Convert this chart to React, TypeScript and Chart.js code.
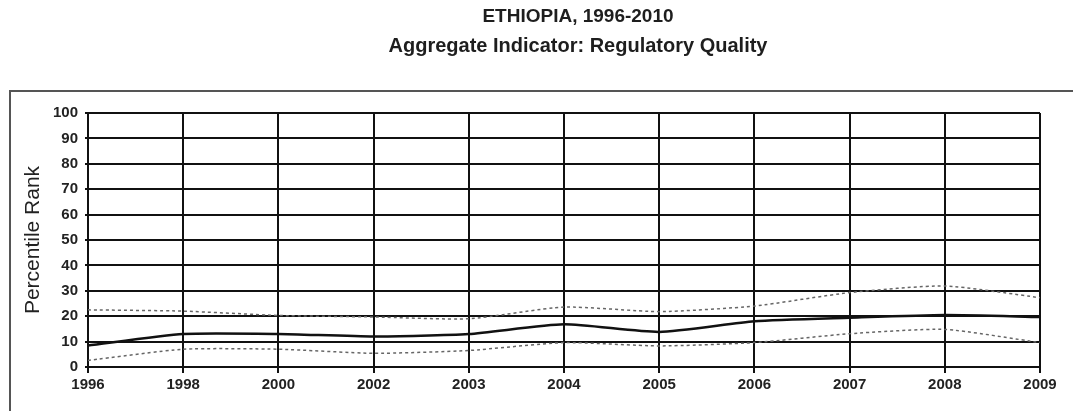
import React, { useEffect, useRef } from "react";
import { Chart, registerables } from "chart.js";

Chart.register(...registerables);

const categories = ["1996", "1998", "2000", "2002", "2003", "2004", "2005", "2006", "2007", "2008", "2009"];
const rankValues = [8.5, 13, 13, 12, 13, 16.8, 13.8, 18, 19.4, 20.5, 19.7];
const upperBound = [22.5, 22, 20.3, 19.7, 19, 23.6, 21.8, 24, 29.3, 31.9, 27.3];
const lowerBound = [2.6, 7, 7, 5.4, 6.5, 9.6, 8.3, 9.6, 13.1, 14.8, 9.6];
const yTicks = [0, 10, 20, 30, 40, 50, 60, 70, 80, 90, 100];

const titleText = "ETHIOPIA, 1996-2010";
const subtitleText = "Aggregate Indicator: Regulatory Quality";
const yAxisTitle = "Percentile Rank";

const FONT = "'Liberation Sans', Arial, sans-serif";

const framePlugin = {
  id: "frame",
  beforeDraw(chart: any) {
    const ctx = chart.ctx;
    ctx.save();
    ctx.fillStyle = "#ffffff";
    ctx.fillRect(0, 0, chart.width, chart.height);
    ctx.strokeStyle = "#555555";
    ctx.lineWidth = 2;
    ctx.beginPath();
    ctx.moveTo(1073, 91);
    ctx.lineTo(10, 91);
    ctx.lineTo(10, 411);
    ctx.stroke();
    ctx.fillStyle = "#1e1e1e";
    ctx.textAlign = "center";
    ctx.textBaseline = "middle";
    ctx.font = "bold 19px " + FONT;
    ctx.fillText(titleText, 578, 17);
    ctx.font = "bold 20px " + FONT;
    ctx.fillText(subtitleText, 578, 46);
    ctx.restore();
  },
};

export default function App() {
  const ref = useRef<HTMLCanvasElement | null>(null);

  useEffect(() => {
    document.body.style.margin = "0";
    const canvas = ref.current;
    if (!canvas) return;
    const chart = new Chart(canvas, {
      type: "line",
      data: {
        labels: categories,
        datasets: [
          {
            label: "Upper bound",
            data: upperBound,
            borderColor: "#666666",
            borderWidth: 1.5,
            borderDash: [3, 3],
            pointRadius: 0,
            tension: 0.2,
            fill: false,
          },
          {
            label: "Percentile rank",
            data: rankValues,
            borderColor: "#111111",
            borderWidth: 2.5,
            pointRadius: 0,
            tension: 0.2,
            fill: false,
          },
          {
            label: "Lower bound",
            data: lowerBound,
            borderColor: "#666666",
            borderWidth: 1.5,
            borderDash: [3, 3],
            pointRadius: 0,
            tension: 0.2,
            fill: false,
          },
        ],
      },
      options: {
        responsive: false,
        animation: false,
        layout: { padding: { left: 21, right: 33, top: 113, bottom: 0 } },
        plugins: {
          legend: { display: false },
          tooltip: { enabled: false },
          title: { display: false },
          subtitle: { display: false },
        },
        scales: {
          x: {
            offset: false,
            grid: { color: "#111111", lineWidth: 2, tickLength: 6, drawTicks: true },
            border: { color: "#111111", width: 2 },
            ticks: {
              color: "#222222",
              font: { family: FONT, size: 15, weight: "bold" },
              padding: 3,
              maxRotation: 0,
              autoSkip: false,
            },
            afterFit: (s: any) => {
              s.height = 44;
            },
          },
          y: {
            min: 0,
            max: 100,
            afterBuildTicks: (s: any) => {
              s.ticks = yTicks.map((v) => ({ value: v }));
            },
            grid: { color: "#111111", lineWidth: 2, tickLength: 3 },
            border: { color: "#111111", width: 2 },
            ticks: {
              color: "#222222",
              font: { family: FONT, size: 15, weight: "bold" },
              padding: 7,
            },
            title: {
              display: true,
              text: yAxisTitle,
              color: "#222222",
              font: { family: FONT, size: 21, weight: "normal" },
              padding: { top: 0, bottom: 0 },
            },
            afterFit: (s: any) => {
              s.width = 67;
            },
          },
        },
      },
      plugins: [framePlugin],
    });
    return () => chart.destroy();
  }, []);

  return (
    <div style={{ position: "absolute", left: 0, top: 0, width: 1073, height: 411 }}>
      <canvas ref={ref} width={1073} height={411} style={{ width: 1073, height: 411 }} />
    </div>
  );
}
